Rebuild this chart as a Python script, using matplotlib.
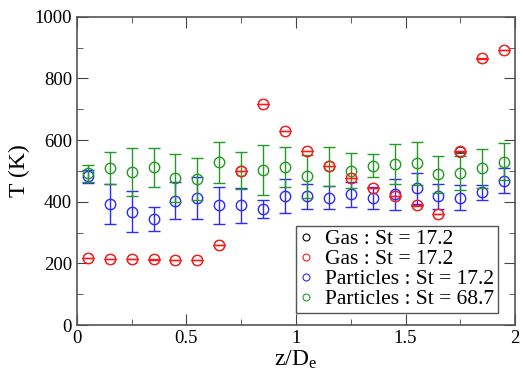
import matplotlib.pyplot as plt
from matplotlib.ticker import MultipleLocator
import numpy as np

plt.rcParams['font.family'] = ['Liberation Serif', 'DejaVu Serif']
plt.rcParams['mathtext.fontset'] = 'custom'
plt.rcParams['mathtext.rm'] = 'Liberation Serif'
plt.rcParams['mathtext.it'] = 'Liberation Serif'

z = [0.05, 0.15, 0.25, 0.35, 0.45, 0.55, 0.65, 0.75, 0.85, 0.95,
     1.05, 1.15, 1.25, 1.35, 1.45, 1.55, 1.65, 1.75, 1.85, 1.95]

# gas temperature (black sits under the red one)
gas_black = [217, 215, 214, 213, 212, 212, 260, 500, 718, 630,
             565, 515, 478, 445, 418, 388, 360, 560, 865, 893]
gas_red = [217, 215, 214, 213, 212, 212, 260, 500, 718, 630,
           565, 515, 478, 445, 418, 388, 360, 565, 865, 893]
gas_err = [0.5] * 20

part_17 = [482, 393, 368, 344, 404, 412, 388, 389, 376, 420,
           417, 413, 424, 413, 424, 444, 417, 413, 430, 468]
part_17_err = [20, 65, 67, 39, 61, 67, 60, 57, 30, 55,
               40, 38, 40, 35, 50, 50, 40, 40, 25, 40]

part_68 = [492, 509, 496, 512, 478, 474, 528, 500, 503, 514,
           482, 515, 500, 517, 523, 525, 489, 493, 508, 530]
part_68_err = [28, 52, 78, 63, 78, 68, 67, 60, 80, 65,
               70, 63, 57, 38, 64, 70, 60, 55, 62, 60]

labels = ['Gas : St = 17.2', 'Gas : St = 17.2',
          'Particles : St = 17.2', 'Particles : St = 68.7']

fig = plt.figure(figsize=(5.23, 3.74), dpi=100)
ax = fig.add_axes([0.147, 0.131, 0.838, 0.824])

style = dict(fmt='o', mfc='none', ms=7.5, capsize=4, elinewidth=1.0)
ax.errorbar(z, gas_black, yerr=gas_err, color='black', mew=0.5, capthick=0.5, zorder=2, **style)
ax.errorbar(z, part_17, yerr=part_17_err, color='#2b2bff', mew=1.0, capthick=1.0, zorder=3, **style)
ax.errorbar(z, part_68, yerr=part_68_err, color='#249a24', mew=1.0, capthick=1.0, zorder=4, **style)
ax.errorbar(z, gas_red, yerr=gas_err, color='#ff1a1a', mew=1.0, capthick=0.9, zorder=5, **style)

ax.set_xlim(0, 2)
ax.set_ylim(0, 1000)
ax.xaxis.set_minor_locator(MultipleLocator(0.25))
ax.yaxis.set_major_locator(MultipleLocator(200))
ax.yaxis.set_minor_locator(MultipleLocator(100))
ax.set_xticks([0, 0.5, 1, 1.5, 2])
ax.set_xticklabels(['0', '0.5', '1', '1.5', '2'])
ax.tick_params(which='both', direction='in', top=True, right=True, colors='#444444',
               labelcolor='black', labelsize=13.5)
ax.tick_params(which='major', length=8)
ax.tick_params(which='minor', length=4)
for s in ax.spines.values():
    s.set_color('#555555')
    s.set_linewidth(1.2)

ax.set_xlabel('z/D$_\\mathrm{e}$', fontsize=17, labelpad=1)
ax.set_ylabel('T (K)', fontsize=17, labelpad=3)

leg_handles = [plt.Line2D([], [], ls='none', marker='o', mfc='none', ms=5, mew=0.8, color=c)
               for c in ['black', '#ff1a1a', '#2b2bff', '#249a24']]
leg = ax.legend(leg_handles, labels, loc='lower right', bbox_to_anchor=(0.96, 0.04),
                fontsize=15.5, fancybox=False, framealpha=1, edgecolor='#555555',
                handlelength=0.6, handletextpad=0.6, borderpad=0.15, labelspacing=0.0,
                borderaxespad=0)
leg.get_frame().set_linewidth(1.0)

fig.savefig('out.png', dpi=100)
